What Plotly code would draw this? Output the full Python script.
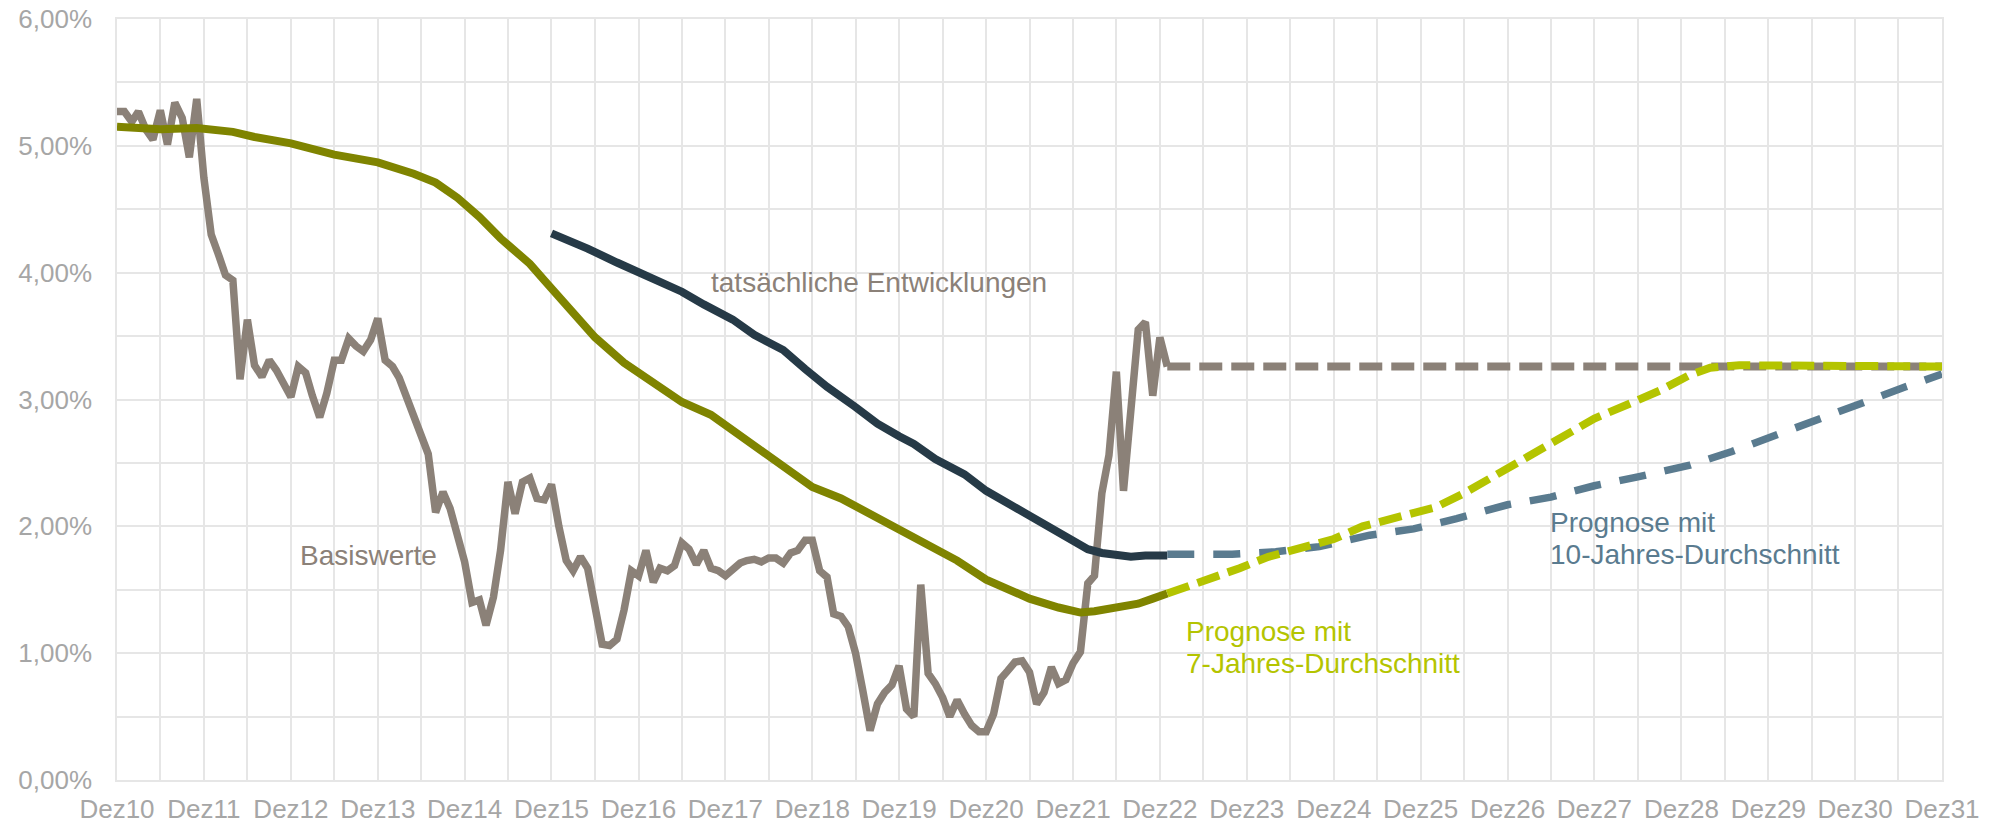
import plotly.graph_objects as go
import pandas as pd

# ---------------- data ----------------
# Basiswerte, monthly from Dez10 (month index 0) to Jan23 (month 145)
basis_values = [
    5.27, 5.27, 5.19, 5.27, 5.13, 5.05, 5.28, 5.01, 5.34, 5.22, 4.91, 5.37,
    4.75, 4.30, 4.14, 3.98, 3.94, 3.16, 3.63, 3.27, 3.18, 3.31, 3.23, 3.12,
    3.02, 3.26, 3.21, 3.03, 2.86, 3.05, 3.31, 3.31, 3.48, 3.42, 3.38, 3.47,
    3.64, 3.31, 3.26, 3.17, 3.02, 2.85, 2.73, 2.57, 2.11, 2.27, 2.14, 1.92,
    1.72, 1.40, 1.42, 1.22, 1.44, 1.81, 2.35, 2.10, 2.35, 2.38, 2.22, 2.21,
    2.33, 2.00, 1.73, 1.65, 1.76, 1.67, 1.34, 1.07, 1.06, 1.11, 1.34, 1.65,
    1.61, 1.81, 1.56, 1.67, 1.65, 1.69, 1.87, 1.82, 1.70, 1.81, 1.67, 1.65,
    1.61, 1.66, 1.71, 1.73, 1.74, 1.72, 1.75, 1.75, 1.71, 1.79, 1.81, 1.89,
    1.89, 1.65, 1.60, 1.31, 1.29, 1.21, 1.00, 0.71, 0.39, 0.60, 0.69, 0.75,
    0.90, 0.56, 0.50, 1.54, 0.84, 0.76, 0.65, 0.50, 0.63, 0.52, 0.43, 0.38,
    0.38, 0.52, 0.80, 0.86, 0.93, 0.94, 0.85, 0.60, 0.69, 0.89, 0.76, 0.79,
    0.92, 1.01, 1.55, 1.61, 2.26, 2.56, 3.22, 2.28, 3.00, 3.55, 3.61, 3.03,
    3.49, 3.26,
]

# Basiswerte forecast (flat)
basis_fc_months = [145, 252]
basis_fc_values = [3.26, 3.26]

# 7-Jahres-Durchschnitt (actual)
avg7_months = [0, 6, 11, 16, 19, 24, 30, 36, 41, 44, 47, 50, 53, 55, 57, 59, 61,
               63, 66, 70, 74, 78, 82, 86, 90, 93, 96, 100, 103, 107, 110, 112,
               116, 120, 123, 126, 130, 133, 135, 138, 141, 143, 145]
avg7_values = [5.15, 5.13, 5.14, 5.11, 5.07, 5.02, 4.93, 4.87, 4.78, 4.71, 4.59,
               4.44, 4.27, 4.18, 4.07, 3.94, 3.81, 3.68, 3.49, 3.29, 3.13, 2.98,
               2.88, 2.71, 2.55, 2.42, 2.31, 2.22, 2.13, 2.00, 1.90, 1.85, 1.73,
               1.58, 1.51, 1.43, 1.36, 1.32, 1.33, 1.36, 1.39, 1.43, 1.47]

# 7-Jahres-Durchschnitt (forecast)
avg7_fc_months = [145, 151, 155, 159, 164, 168, 172, 177, 182, 186, 191, 196,
                  200, 204, 209, 213, 217, 220, 224, 252]
avg7_fc_values = [1.47, 1.58, 1.67, 1.76, 1.84, 1.90, 2.00, 2.07, 2.15, 2.26,
                  2.42, 2.58, 2.71, 2.85, 2.97, 3.07, 3.19, 3.25, 3.27, 3.26]

# 10-Jahres-Durchschnitt (actual)
avg10_months = [60, 63, 65, 69, 73, 78, 81, 85, 88, 92, 95, 98, 102, 105, 108,
                110, 113, 117, 120, 123, 127, 130, 132, 134, 136, 140, 142, 145]
avg10_values = [4.31, 4.24, 4.19, 4.08, 3.98, 3.85, 3.75, 3.63, 3.51, 3.39, 3.24,
                3.10, 2.94, 2.81, 2.71, 2.65, 2.53, 2.41, 2.28, 2.18, 2.05, 1.95,
                1.88, 1.82, 1.79, 1.76, 1.77, 1.77]

# 10-Jahres-Durchschnitt (forecast)
avg10_fc_months = [145, 154, 160, 166, 173, 179, 185, 192, 198, 204, 210, 217,
                   223, 229, 235, 241, 247, 252]
avg10_fc_values = [1.78, 1.78, 1.80, 1.84, 1.93, 1.98, 2.06, 2.17, 2.23, 2.32,
                   2.39, 2.48, 2.59, 2.72, 2.84, 2.98, 3.10, 3.20]

x_tick_labels = ["Dez10", "Dez11", "Dez12", "Dez13", "Dez14", "Dez15", "Dez16",
                 "Dez17", "Dez18", "Dez19", "Dez20", "Dez21", "Dez22", "Dez23",
                 "Dez24", "Dez25", "Dez26", "Dez27", "Dez28", "Dez29", "Dez30",
                 "Dez31"]
y_tick_values = [0, 1, 2, 3, 4, 5, 6]
y_tick_labels = ["0,00%", "1,00%", "2,00%", "3,00%", "4,00%", "5,00%", "6,00%"]

# ---------------- helpers ----------------
START = pd.Timestamp("2010-12-01")


def to_dates(months):
    return [START + pd.DateOffset(months=int(m)) for m in months]


x_tick_vals = to_dates([12 * i for i in range(len(x_tick_labels))])

FONT = "Liberation Sans, Arial, sans-serif"
GRAY = "#8B8178"
OLIVE = "#7F8400"
NAVY = "#263A47"
LIME = "#B4C400"
BLUEGRAY = "#5A7B8F"
GRID = "#E6E6E6"
TICK = "#A6A6A6"
LW = 8

fig = go.Figure()

fig.add_trace(go.Scatter(x=to_dates(range(len(basis_values))), y=basis_values,
                         mode="lines", line=dict(color=GRAY, width=7.5),
                         name="Basiswerte"))
fig.add_trace(go.Scatter(x=to_dates(basis_fc_months), y=basis_fc_values,
                         mode="lines", line=dict(color=GRAY, width=LW, dash="23px,9px"),
                         name="Basiswerte Prognose"))
fig.add_trace(go.Scatter(x=to_dates(avg7_months), y=avg7_values, mode="lines",
                         line=dict(color=OLIVE, width=LW), name="7-Jahres-Durchschnitt"))
fig.add_trace(go.Scatter(x=to_dates(avg10_months), y=avg10_values, mode="lines",
                         line=dict(color=NAVY, width=LW), name="10-Jahres-Durchschnitt"))
fig.add_trace(go.Scatter(x=to_dates(avg10_fc_months), y=avg10_fc_values, mode="lines",
                         line=dict(color=BLUEGRAY, width=7.5, dash="27px,19px"),
                         name="Prognose 10 J."))
fig.add_trace(go.Scatter(x=to_dates(avg7_fc_months), y=avg7_fc_values, mode="lines",
                         line=dict(color=LIME, width=LW, dash="23px,9px"),
                         name="Prognose 7 J."))

PLOT_L, PLOT_R, PLOT_T, PLOT_B = 117, 1942, 19, 780
W, H = 1993, 825


def px_x(xf):
    return (xf - PLOT_L) / (PLOT_R - PLOT_L)


annotations = [
    dict(text="tatsächliche Entwicklungen", x=px_x(879), y=3.92, xanchor="center",
         color=GRAY),
    dict(text="Basiswerte", x=px_x(368), y=1.77, xanchor="center", color=GRAY),
    dict(text="Prognose mit", x=px_x(1184), y=1.17, xanchor="left", color=LIME),
    dict(text="7-Jahres-Durchschnitt", x=px_x(1184), y=0.92, xanchor="left", color=LIME),
    dict(text="Prognose mit", x=px_x(1548), y=2.03, xanchor="left", color=BLUEGRAY),
    dict(text="10-Jahres-Durchschnitt", x=px_x(1548), y=1.775, xanchor="left",
         color=BLUEGRAY),
]
for a in annotations:
    fig.add_annotation(text=a["text"], x=a["x"], y=a["y"], xref="paper", yref="y",
                       xanchor=a["xanchor"], yanchor="middle", showarrow=False,
                       font=dict(family=FONT, size=28, color=a["color"]))

fig.update_layout(
    width=W, height=H,
    margin=dict(l=PLOT_L, r=W - PLOT_R, t=PLOT_T, b=H - PLOT_B, autoexpand=False),
    paper_bgcolor="white", plot_bgcolor="white",
    showlegend=False,
    font=dict(family=FONT, size=26, color=TICK),
)
fig.update_xaxes(
    type="date",
    range=[x_tick_vals[0], x_tick_vals[-1]],
    tickmode="array", tickvals=x_tick_vals, ticktext=x_tick_labels,
    tickfont=dict(family=FONT, size=26, color=TICK),
    showgrid=True, gridcolor=GRID, gridwidth=1.5,
    minor=dict(tick0="2010-12-01", dtick="M6", showgrid=True, gridcolor=GRID,
               gridwidth=1.5),
    showline=True, linecolor=GRID, linewidth=1.5, mirror=True,
    zeroline=False, ticks="", ticklabelstandoff=5, automargin=False,
    ticklabeloverflow="allow",
)
fig.update_yaxes(
    range=[0, 6],
    tickmode="array", tickvals=y_tick_values, ticktext=y_tick_labels,
    tickfont=dict(family=FONT, size=26, color=TICK),
    showgrid=True, gridcolor=GRID, gridwidth=1.5,
    minor=dict(tick0=0, dtick=0.5, showgrid=True, gridcolor=GRID, gridwidth=1.5),
    showline=True, linecolor=GRID, linewidth=1.5, mirror=True,
    zeroline=False, ticks="", ticklabelstandoff=18, automargin=False,
    ticklabeloverflow="allow",
)

# remove the default page margin so the figure fills the window exactly
fig.write_html("out.html",
               config={"displayModeBar": False},
               post_script="document.body.style.margin='0';"
                           "document.body.style.overflow='hidden';")
